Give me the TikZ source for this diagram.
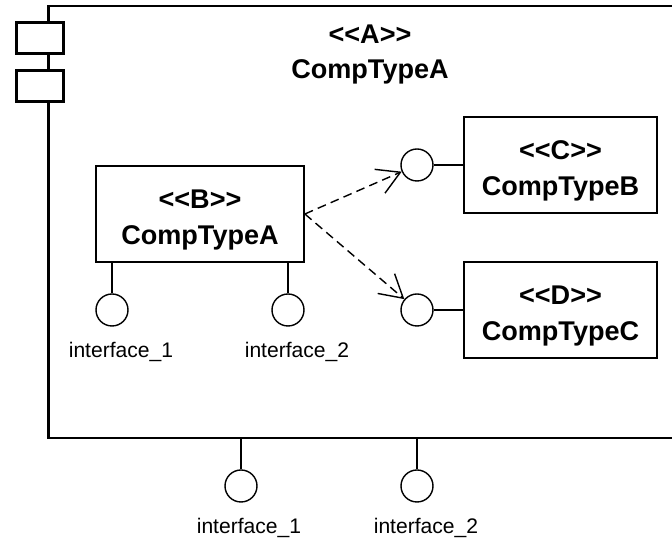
\documentclass[tikz,border=0pt]{standalone}
\usepackage{fontspec}
\setmainfont{Liberation Sans}[Ligatures=TeXOff]
\usetikzlibrary{arrows.meta}

\begin{document}
\begin{tikzpicture}[
    comp/.style={draw,line width=1pt,minimum width=4.16cm,minimum height=1.92cm,align=center,
      font=\bfseries\fontsize{15.4}{20}\selectfont,text height=37.5pt},
    port/.style={draw,fill=white,line width=1.2pt,minimum width=0.94cm,minimum height=0.62cm,inner sep=0},
    iface/.style={draw,circle,line width=0.8pt,minimum size=0.64cm,inner sep=0},
    iflabel/.style={anchor=base,inner sep=0,font=\fontsize{12}{14}\selectfont},
    dep/.style={line width=0.8pt,dash pattern=on 5pt off 3pt,-{Straight Barb[length=0.45cm,width=0.52cm]}}]
        \useasboundingbox (0,0) rectangle (13.44,10.8);
        \coordinate (tr) at (13.44,10.68);
        \coordinate (tl) at (0.97,10.68);
        \coordinate (bl) at (0.97,2.04);
        \coordinate (br) at (13.44,2.04);
        \draw[line width=1.2pt] (tr) -- (tl) -- (bl) -- (br);
        \node[port] (p1) at (0.8,10.04) {};
        \node[port] (p2) at (0.8,9.08) {};
        \node[comp,draw=none] (title) at (7.4,9.83) {<<A>>\\CompTypeA};
        \node[comp] (B) at (4.0,6.52) {<<B>>\\CompTypeA};
        \node[comp,minimum width=3.86cm] (C) at (11.21,7.5) {<<C>>\\CompTypeB};
        \node[comp,minimum width=3.86cm] (D) at (11.21,4.6) {<<D>>\\CompTypeC};
        \node[iface] (c1) at (8.34,7.5) {};
        \node[iface] (d1) at (8.34,4.6) {};
        \node[iface] (b1) at (2.24,4.6) {};
        \node[iface] (b2) at (5.76,4.6) {};
        \node[iface] (a1) at (4.82,1.08) {};
        \node[iface] (a2) at (8.34,1.08) {};
        \node[iflabel] (lb1) at ([xshift=0.18cm,yshift=-0.62cm]b1.south) {interface\_1};
        \node[iflabel] (lb2) at ([xshift=0.18cm,yshift=-0.62cm]b2.south) {interface\_2};
        \node[iflabel] (la1) at ([xshift=0.16cm,yshift=-0.62cm]a1.south) {interface\_1};
        \node[iflabel] (la2) at ([xshift=0.18cm,yshift=-0.62cm]a2.south) {interface\_2};
        \draw[line width=0.8pt] (c1) -- (C) (d1) -- (D)
          (b1) -- (b1 |- B.south) (b2) -- (b2 |- B.south)
          (a1) -- (a1 |- bl) (a2) -- (a2 |- bl);
        \draw[dep] (B.east) -- (c1);
        \draw[dep] (B.east) -- (d1);
      \end{tikzpicture}
\end{document}
